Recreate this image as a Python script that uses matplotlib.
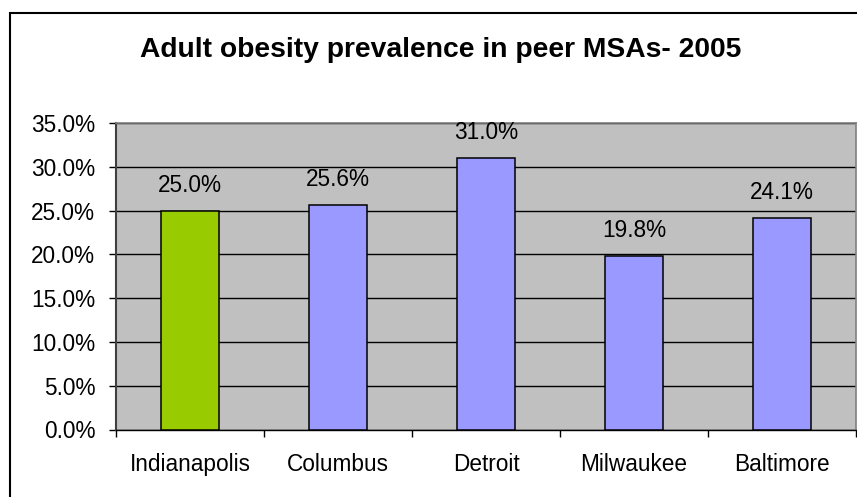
import numpy as np
import matplotlib
matplotlib.use("Agg")
import matplotlib.pyplot as plt
from matplotlib.patches import Rectangle
from matplotlib.ticker import FixedLocator, FuncFormatter

# data
cities = ["Indianapolis", "Columbus", "Detroit", "Milwaukee", "Baltimore"]
obesity_pct = [25.0, 25.6, 31.0, 19.8, 24.1]
bar_colors = ["#99CC00", "#9999FF", "#9999FF", "#9999FF", "#9999FF"]
title = "Adult obesity prevalence in peer MSAs- 2005"

plt.rcParams["font.family"] = ["Liberation Sans", "DejaVu Sans"]

W, H = 857, 497
fig = plt.figure(figsize=(W / 100, H / 100), dpi=100)
fig.patch.set_facecolor("white")

# outer chart frame (runs off the right/bottom edge in the reference)
fig.add_artist(Rectangle((10 / W, -0.2), 2.0, 1 - 13 / H + 0.2,
                         transform=fig.transFigure, fill=False,
                         edgecolor="black", linewidth=1.5))

ax = fig.add_axes([116 / W, 1 - 429.5 / H, 740 / W, 306.5 / H])
ax.set_facecolor("#C0C0C0")

x = np.arange(len(cities))
ax.set_axisbelow(True)
ax.yaxis.grid(True, color="black", linewidth=1.0)
ax.bar(x, obesity_pct, width=0.395, color=bar_colors,
       edgecolor="black", linewidth=1.1, zorder=3)

for xi, v in zip(x, obesity_pct):
    ax.annotate(f"{v:.1f}%", (xi, v), xytext=(0, 14 * 0.72),
                textcoords="offset points", ha="center", va="bottom",
                fontsize=16.3, color="black")

ax.set_xlim(-0.5, len(cities) - 0.5)
ax.set_ylim(0, 35)
ax.set_yticks(np.arange(0, 35.1, 5))
ax.yaxis.set_major_formatter(FuncFormatter(lambda v, p: f"{v:.1f}%"))
ax.tick_params(axis="y", direction="out", length=5, width=1,
               labelsize=16.3, pad=10, color="black")

ax.set_xticks(x)
ax.set_xticklabels(cities)
ax.xaxis.set_minor_locator(FixedLocator(np.arange(-0.5, len(cities), 1)))
ax.tick_params(axis="x", which="major", length=0, labelsize=16.3, pad=17)
ax.tick_params(axis="x", which="minor", direction="out", length=5,
               width=1, color="black")

for side in ["top", "right"]:
    ax.spines[side].set_color("#808080")
    ax.spines[side].set_linewidth(1.2)
ax.spines["left"].set_color("#404040")
ax.spines["left"].set_linewidth(1.5)
ax.spines["bottom"].set_color("black")
ax.spines["bottom"].set_linewidth(1.0)

fig.text(441 / W, 1 - 50 / H, title, ha="center", va="center",
         fontsize=20.3, fontweight="bold")

fig.savefig("out.png", dpi=100)
